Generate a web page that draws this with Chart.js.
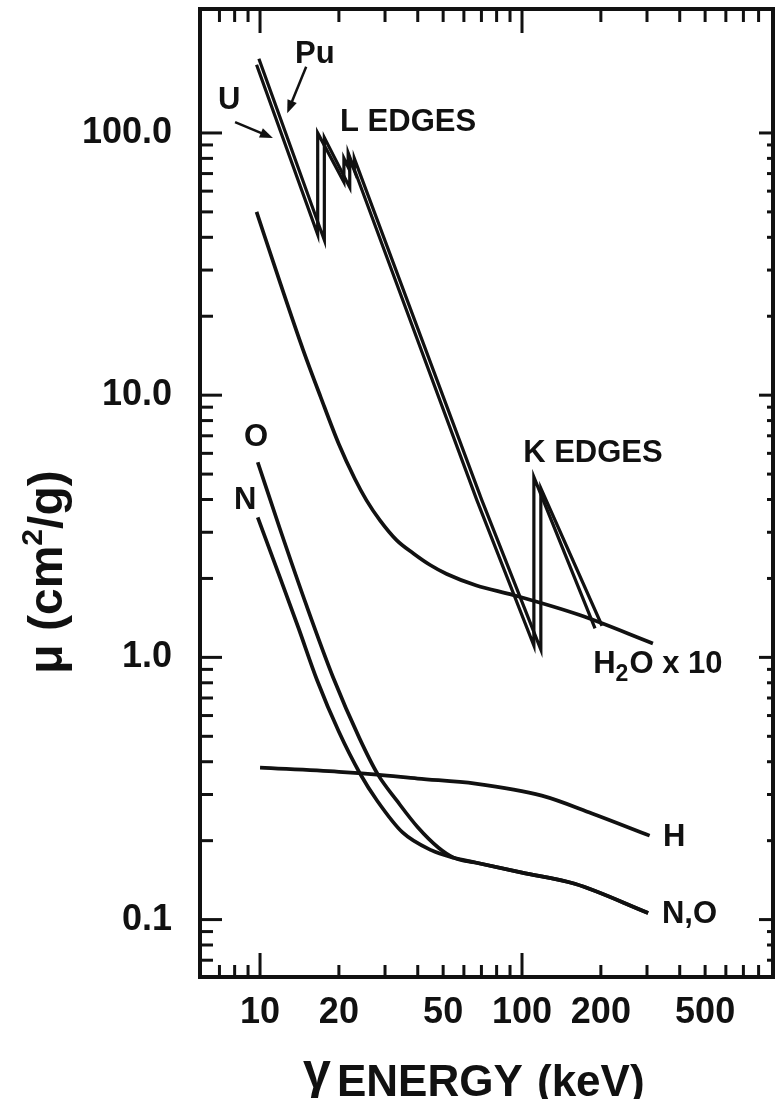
<!DOCTYPE html>
<html>
<head>
<meta charset="utf-8">
<script src="https://cdn.jsdelivr.net/npm/chart.js@4.4.1/dist/chart.umd.min.js"></script>
<style>
  html, body { margin: 0; padding: 0; background: #fff; }
  #wrap { width: 775px; height: 1099px; }
</style>
</head>
<body>
<div id="wrap"><canvas id="chart" width="775" height="1099"></canvas></div>
<script>
const ink = '#111'
const face = '"Liberation Sans", Arial, Helvetica, sans-serif'

// axis ticks (log axes, keV / cm2 per g)
const xTicks = [7, 8, 9, 10, 20, 30, 40, 50, 60, 70, 80, 90, 100, 200, 300, 400, 500, 600, 700, 800]
const xLabels = [10, 20, 50, 100, 200, 500]
const yTicks = [0.07, 0.08, 0.09, 0.1, 0.2, 0.3, 0.4, 0.5, 0.6, 0.7, 0.8, 0.9, 1, 2, 3, 4, 5, 6, 7, 8, 9, 10, 20, 30, 40, 50, 60, 70, 80, 90, 100]
const yLabels = [0.1, 1, 10, 100]

// uranium and plutonium (L and K edges)
const uEnergy = [9.7, 16.6, 16.6, 20.9, 20.9, 21.7, 21.7, 67.3, 111, 111, 190]
const uMu = [182, 41, 100, 65, 80, 74, 84, 3.97, 1.11, 4.87, 1.29]
const puEnergy = [9.9, 17.6, 17.6, 22.0, 22.0, 22.9, 22.9, 70.3, 118, 118, 202]
const puMu = [192, 39, 96, 62, 80, 72, 80, 3.97, 1.07, 4.41, 1.32]

// water x 10
const waterEnergy = [9.7, 12, 14.6, 17, 20, 23, 25.5, 28.7, 33.2, 38.5, 44.6, 51.6, 67, 92.3, 166, 316]
const waterMu = [50, 26.4, 14.9, 9.9, 6.5, 4.8, 3.97, 3.33, 2.8, 2.49, 2.25, 2.08, 1.88, 1.73, 1.45, 1.13]

// oxygen, nitrogen, hydrogen
const oEnergy = [9.8, 11.9, 15.1, 19, 24, 28.2, 33.3, 40, 48, 55, 66.3, 100, 159, 303]
const oMu = [5.55, 3.1, 1.56, 0.84, 0.49, 0.357, 0.284, 0.225, 0.188, 0.172, 0.165, 0.151, 0.137, 0.106]
const nEnergy = [9.8, 12, 14, 16.5, 20, 24.1, 28, 35, 45, 55, 66.3, 100, 159, 303]
const nMu = [3.42, 1.98, 1.3, 0.82, 0.52, 0.36, 0.284, 0.215, 0.184, 0.172, 0.165, 0.151, 0.137, 0.106]
const hEnergy = [10, 20, 28, 40, 66.3, 119, 185, 307]
const hMu = [0.38, 0.366, 0.357, 0.345, 0.33, 0.297, 0.254, 0.209]

// curve labels, placed in data coordinates
const notes = [
  { text: 'Pu', e: 16.2, mu: 200, align: 'center' },
  { text: 'U', e: 7.62, mu: 133, align: 'center' },
  { text: 'L EDGES', e: 20.2, mu: 110, align: 'left' },
  { text: 'K EDGES', e: 101, mu: 6.01, align: 'left' },
  { text: 'O', e: 9.65, mu: 6.92, align: 'center' },
  { text: 'N', e: 8.77, mu: 3.97, align: 'center' },
  { text: 'H', e: 345, mu: 0.206, align: 'left' },
  { text: 'N,O', e: 342, mu: 0.105, align: 'left' }
]
const arrows = [
  { from: [15.0, 179], to: [12.7, 119] },
  { from: [8.03, 110], to: [11.2, 95.7] }
]

function pts (xs, ys) {
  return xs.map((v, i) => ({ x: v, y: ys[i] }))
}

function curve (xs, ys, smooth) {
  return {
    data: pts(xs, ys),
    borderColor: ink,
    borderWidth: smooth ? 3.7 : 3.2,
    pointRadius: 0,
    fill: false,
    tension: 0,
    cubicInterpolationMode: smooth ? 'monotone' : 'default'
  }
}

const decor = {
  id: 'decor',
  afterDraw (chart) {
    const { ctx, chartArea: a, scales: { x, y } } = chart
    const seg = (x1, y1, x2, y2) => {
      ctx.beginPath(); ctx.moveTo(x1, y1); ctx.lineTo(x2, y2); ctx.stroke()
    }
    ctx.save()
    ctx.strokeStyle = ink
    ctx.fillStyle = ink

    // inward tick marks on all four sides
    ctx.lineWidth = 3
    xTicks.forEach(v => {
      const px = x.getPixelForValue(v)
      const major = v === 10 || v === 100
      seg(px, a.bottom, px, a.bottom - (major ? 24 : 12))
      seg(px, a.top, px, a.top + (major ? 24 : 13))
    })
    yTicks.forEach(v => {
      const py = y.getPixelForValue(v)
      const major = yLabels.includes(v)
      seg(a.left, py, a.left + (major ? 22 : 13), py)
      seg(a.right, py, a.right - (major ? 14 : 6), py)
    })
    ctx.lineWidth = 4
    ctx.strokeRect(a.left, a.top, a.right - a.left, a.bottom - a.top)

    // curve labels
    ctx.font = `bold 31px ${face}`
    ctx.textBaseline = 'middle'
    notes.forEach(n => {
      ctx.textAlign = n.align
      ctx.fillText(n.text, x.getPixelForValue(n.e), y.getPixelForValue(n.mu))
    })

    // H2O x 10
    let hx = x.getPixelForValue(187)
    const hy = y.getPixelForValue(0.94)
    ctx.textAlign = 'left'
    ctx.fillText('H', hx, hy)
    hx += ctx.measureText('H').width
    ctx.font = `bold 23px ${face}`
    ctx.fillText('2', hx, hy + 10)
    hx += ctx.measureText('2').width + 1
    ctx.font = `bold 31px ${face}`
    ctx.fillText('O x 10', hx, hy)

    // arrows
    ctx.lineWidth = 2.5
    arrows.forEach(ar => {
      const x1 = x.getPixelForValue(ar.from[0])
      const y1 = y.getPixelForValue(ar.from[1])
      const x2 = x.getPixelForValue(ar.to[0])
      const y2 = y.getPixelForValue(ar.to[1])
      const ang = Math.atan2(y2 - y1, x2 - x1)
      seg(x1, y1, x2 - 8 * Math.cos(ang), y2 - 8 * Math.sin(ang))
      ctx.beginPath()
      ctx.moveTo(x2, y2)
      ctx.lineTo(x2 - 13 * Math.cos(ang) + 5 * Math.sin(ang), y2 - 13 * Math.sin(ang) - 5 * Math.cos(ang))
      ctx.lineTo(x2 - 13 * Math.cos(ang) - 5 * Math.sin(ang), y2 - 13 * Math.sin(ang) + 5 * Math.cos(ang))
      ctx.closePath()
      ctx.fill()
    })

    // x axis title
    ctx.textBaseline = 'alphabetic'
    ctx.textAlign = 'left'
    ctx.font = `bold 50px ${face}`
    ctx.fillText('\u03b3', 303, 1088)
    ctx.font = `bold 44px ${face}`
    ctx.fillText('ENERGY', 337, 1096)
    ctx.fillText('(keV)', 537, 1096)

    // y axis title, rotated
    ctx.translate(62, 572)
    ctx.rotate(-Math.PI / 2)
    const parts = [['\u03bc (cm', 48, 0], ['2', 30, -20], ['/g)', 48, 0]]
    let w = 0
    parts.forEach(p => { ctx.font = `bold ${p[1]}px ${face}`; w += ctx.measureText(p[0]).width })
    let tx = -w / 2
    parts.forEach(p => {
      ctx.font = `bold ${p[1]}px ${face}`
      ctx.fillText(p[0], tx, p[2])
      tx += ctx.measureText(p[0]).width
    })
    ctx.restore()
  }
}

const tickFont = { family: face, size: 36, weight: 'bold' }

new Chart(document.getElementById('chart'), {
  type: 'line',
  data: {
    datasets: [
      curve(uEnergy, uMu, false),
      curve(puEnergy, puMu, false),
      curve(waterEnergy, waterMu, true),
      curve(oEnergy, oMu, true),
      curve(nEnergy, nMu, true),
      curve(hEnergy, hMu, true)
    ]
  },
  options: {
    responsive: false,
    animation: false,
    layout: { padding: { top: 9, right: 2, left: 0, bottom: 0 } },
    plugins: { legend: { display: false }, tooltip: { enabled: false } },
    scales: {
      x: {
        type: 'logarithmic',
        min: 5.9,
        max: 908,
        grid: { display: false },
        border: { display: false },
        afterBuildTicks: s => { s.ticks = xTicks.map(v => ({ value: v })) },
        afterFit: s => { s.height = 122; s.paddingLeft = 0; s.paddingRight = 0 },
        ticks: {
          autoSkip: false,
          maxRotation: 0,
          padding: 6,
          color: ink,
          font: tickFont,
          callback: v => xLabels.includes(v) ? String(v) : ''
        }
      },
      y: {
        type: 'logarithmic',
        min: 0.0604,
        max: 297,
        grid: { display: false },
        border: { display: false },
        afterBuildTicks: s => { s.ticks = yTicks.map(v => ({ value: v })) },
        afterFit: s => { s.width = 200; s.paddingTop = 0; s.paddingBottom = 0 },
        ticks: {
          autoSkip: false,
          padding: 20,
          color: ink,
          font: tickFont,
          callback: v => yLabels.includes(v) ? v.toFixed(1) : ''
        }
      }
    }
  },
  plugins: [decor]
})
</script>
</body>
</html>
